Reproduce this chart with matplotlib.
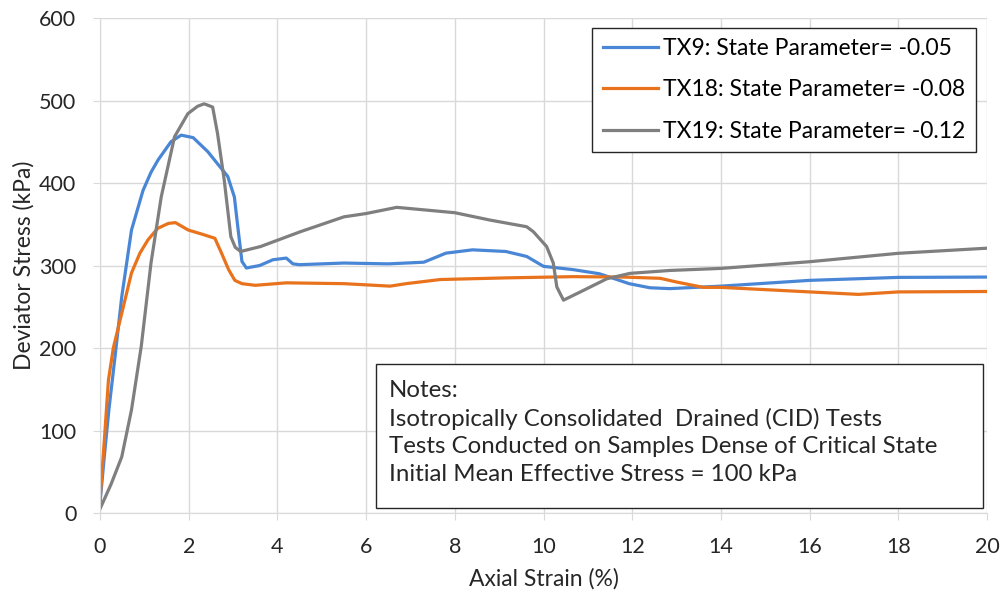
import numpy as np
import matplotlib
matplotlib.use("Agg")
import matplotlib.pyplot as plt
from matplotlib.patches import Rectangle

plt.rcParams['font.family'] = ['Lato', 'DejaVu Sans']

# TX9: state parameter -0.05
tx9_strain = [0, 0.1, 0.2, 0.34, 0.49, 0.71, 0.97, 1.15, 1.31, 1.6, 1.83, 2.1, 2.43, 2.7, 2.88,
              3.03, 3.1, 3.2, 3.3, 3.6, 3.9, 4.2, 4.35, 4.5, 5.5, 6.5, 7.3, 7.8, 8.4, 9.15,
              9.62, 10.0, 10.67, 11.26, 11.6, 11.93, 12.4, 12.85, 14, 16, 18, 20]
tx9_stress = [12, 70, 125, 190, 262, 343, 391, 413, 428, 450, 458, 455, 438, 420, 408,
              383, 350, 305, 297, 300, 307, 309, 302, 301, 303, 302, 304, 315, 319, 317,
              311, 299, 295, 290, 284, 278, 273, 272, 275, 282, 285.6, 286]

# TX18: state parameter -0.08
tx18_strain = [0, 0.1, 0.19, 0.3, 0.49, 0.71, 0.9, 1.08, 1.3, 1.54, 1.7, 1.99, 2.3, 2.59, 2.74,
               2.9, 3.04, 3.2, 3.5, 4.2, 5.5, 6.54, 6.9, 7.67, 9.15, 10.67, 11.8, 12.63,
               13.0, 13.6, 14, 16, 17.1, 18, 20]
tx18_stress = [15, 90, 161, 200, 242, 291, 315, 331, 345, 351, 352, 343, 338, 333, 315,
               295, 282, 278, 276, 279, 278, 275, 278, 283, 285, 286.5, 286, 284.5,
               280, 273.5, 273.5, 268, 265, 268, 268.5]

# TX19: state parameter -0.12
tx19_strain = [0, 0.25, 0.49, 0.71, 0.93, 1.15, 1.38, 1.68, 1.98, 2.2, 2.35, 2.54, 2.65,
               2.8, 2.95, 3.05, 3.17, 3.62, 4.52, 5.5, 6.0, 6.69, 8.0, 8.8, 9.62, 9.77, 10.07,
               10.22, 10.3, 10.45, 10.83, 11.43, 11.95, 12.85, 14, 16, 18, 20]
tx19_stress = [5, 35, 68, 125, 202, 303, 383, 456, 484, 493, 496, 492, 460,
               404, 335, 322, 317, 323, 341, 359, 363, 370.5, 364, 355, 347, 341, 323,
               303, 274, 258, 268, 284, 290.5, 294, 296.5, 304.6, 314.8, 321]

labels = ["TX9: State Parameter= -0.05",
          "TX18: State Parameter= -0.08",
          "TX19: State Parameter= -0.12"]
colors = ["#4a86d6", "#e8731c", "#7f7f7f"]

notes = ("Notes:\n"
         "Isotropically Consolidated  Drained (CID) Tests\n"
         "Tests Conducted on Samples Dense of Critical State\n"
         "Initial Mean Effective Stress = 100 kPa")

fig = plt.figure(figsize=(10.03, 5.92), dpi=100)
ax = fig.add_axes([0.0997, 0.1334, 0.8844, 0.8362])

series = [(tx9_strain, tx9_stress), (tx18_strain, tx18_stress), (tx19_strain, tx19_stress)]
for (x, y), c, lab in zip(series, colors, labels):
    ax.plot(x, y, color=c, lw=2.3, label=lab, solid_joinstyle='round')

ax.set_xlim(0, 20)
ax.set_ylim(0, 600)
ax.set_xticks(np.arange(0, 21, 2))
ax.set_yticks(np.arange(0, 601, 100))
ax.grid(True, color="#d9d9d9", lw=1.0)
ax.set_axisbelow(True)
for side in ["top", "right"]:
    ax.spines[side].set_visible(False)
for side in ["left", "bottom"]:
    ax.spines[side].set_color("#d9d9d9")
ax.tick_params(colors="#d9d9d9", labelcolor="#262626", labelsize=15.5, length=5, pad=12)
ax.set_xlabel("Axial Strain (%)", fontsize=16.5, color="#262626", labelpad=8)
ax.set_ylabel("Deviator Stress (kPa)", fontsize=16.5, color="#262626", labelpad=3)

leg = ax.legend(loc="upper right", bbox_to_anchor=(0.9876, 0.9798), fontsize=16.5,
                frameon=True, fancybox=False, edgecolor="#262626", handlelength=2.4,
                handletextpad=0.25, borderpad=0.45, labelspacing=0.88, borderaxespad=0,
                framealpha=1)
leg.get_frame().set_linewidth(1.0)

# notes box
ax.add_patch(Rectangle((0.311, 0.0101), 0.684, 0.291, transform=ax.transAxes,
                       fc="white", ec="#262626", lw=1.0, zorder=5))
ax.text(0.326, 0.268, notes, transform=ax.transAxes, fontsize=17.3, color="#262626",
        linespacing=1.37, va="top", ha="left", zorder=6)

fig.savefig("out.png", dpi=100)
